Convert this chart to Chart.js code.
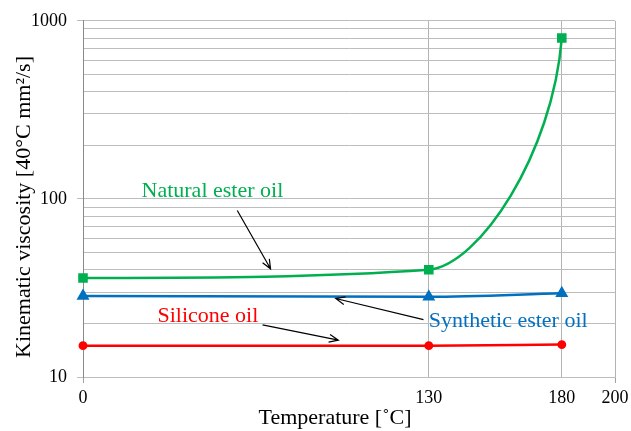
<!DOCTYPE html>
<html>
<head>
<meta charset="utf-8">
<script src="https://cdn.jsdelivr.net/npm/chart.js@4.4.1/dist/chart.umd.min.js"></script>
<style>
  body { margin: 0; background: #fff; }
</style>
</head>
<body>
<canvas id="elementViscosity" width="631" height="431"></canvas>
<script>
// temperatures [deg C]
var temps = [0, 130, 180];
// kinematic viscosity at 40 deg C [mm2/s]
var naturalEster = [36, 40, 800];
var syntheticEster = [28.5, 28.2, 29.5];
var siliconeOil = [15, 15, 15.2];

var xTicks = [0, 130, 180, 200];
var yTicks = [10, 20, 30, 40, 50, 60, 70, 80, 90, 100, 200, 300, 400, 500, 600, 700, 800, 900, 1000];
var yLabels = [10, 100, 1000];

var serif = 'Liberation Serif';

function toPoints(values) {
    return temps.map(function (t, i) { return { x: t, y: values[i] }; });
}

// text labels and arrows, placed in data units
var notes = [
    { text: 'Natural ester oil', color: '#00B050', x: 22, y: 102, from: [58, 86], to: [70.5, 40.5] },
    { text: 'Silicone oil', color: '#FF0000', x: 28, y: 20.4, from: [67.5, 19.6], to: [96, 16.1] },
    { text: 'Synthetic ester oil', color: '#0070C0', x: 130, y: 19.1, from: [128, 21], to: [95, 27.6] }
];

// bend the last segment of the natural ester curve like the spreadsheet smoothing does
var smoothPlugin = {
    id: 'smoothEnd',
    beforeDatasetDraw: function (chart, args) {
        if (args.index !== 0) return;
        var line = args.meta.dataset;
        line.updateControlPoints(chart.chartArea, 'x');
        var pts = args.meta.data;
        var a = pts[pts.length - 2], b = pts[pts.length - 1];
        var dx = b.x - a.x, dy = b.y - a.y;
        a.cp2x = a.x + 0.38 * dx;
        a.cp2y = a.y + 0.02 * dy;
        b.cp1x = b.x - 0.07 * dx;
        b.cp1y = b.y - 0.5 * dy;
    }
};

var notesPlugin = {
    id: 'notes',
    afterDatasetsDraw: function (chart) {
        var c = chart.ctx;
        var xs = chart.scales.x, ys = chart.scales.y;
        c.save();
        c.font = '22px ' + serif;
        c.textBaseline = 'alphabetic';
        c.textAlign = 'left';
        notes.forEach(function (n) {
            c.fillStyle = n.color;
            c.fillText(n.text, xs.getPixelForValue(n.x), ys.getPixelForValue(n.y));
            var x1 = xs.getPixelForValue(n.from[0]), y1 = ys.getPixelForValue(n.from[1]);
            var x2 = xs.getPixelForValue(n.to[0]), y2 = ys.getPixelForValue(n.to[1]);
            var a = Math.atan2(y2 - y1, x2 - x1);
            c.strokeStyle = '#000';
            c.lineWidth = 1.2;
            c.beginPath();
            c.moveTo(x1, y1);
            c.lineTo(x2, y2);
            c.moveTo(x2 - 10 * Math.cos(a - 0.4), y2 - 10 * Math.sin(a - 0.4));
            c.lineTo(x2, y2);
            c.lineTo(x2 - 10 * Math.cos(a + 0.4), y2 - 10 * Math.sin(a + 0.4));
            c.stroke();
        });

        // axis titles
        c.fillStyle = '#000';
        c.textAlign = 'center';
        c.textBaseline = 'alphabetic';
        c.fillText('Temperature [\u02DAC]', 335, 424);
        c.translate(24, 207);
        c.rotate(-Math.PI / 2);
        c.textBaseline = 'middle';
        c.fillText('Kinematic viscosity [40\u00B0C mm\u00B2/s]', 0, 0);
        c.restore();
    }
};

var chartConfig = {
    type: 'line',
    data: {
        datasets: [{
            label: 'Natural ester oil',
            data: toPoints(naturalEster),
            borderColor: '#00B050',
            backgroundColor: '#00B050',
            borderWidth: 2.5,
            pointStyle: 'rect',
            pointRadius: 5,
            clip: false,
            cubicInterpolationMode: 'monotone'
        }, {
            label: 'Synthetic ester oil',
            data: toPoints(syntheticEster),
            borderColor: '#0070C0',
            backgroundColor: '#0070C0',
            borderWidth: 2.5,
            pointStyle: 'triangle',
            pointRadius: 5,
            clip: false,
            cubicInterpolationMode: 'monotone'
        }, {
            label: 'Silicone oil',
            data: toPoints(siliconeOil),
            borderColor: '#FF0000',
            backgroundColor: '#FF0000',
            borderWidth: 2.5,
            pointStyle: 'circle',
            pointRadius: 3.2,
            clip: false,
            cubicInterpolationMode: 'monotone'
        }]
    },
    options: {
        responsive: false,
        animation: false,
        layout: { padding: { top: 20, right: 16, left: 0, bottom: 0 } },
        plugins: {
            legend: { display: false },
            tooltip: { enabled: false }
        },
        scales: {
            x: {
                type: 'linear',
                min: 0,
                max: 200,
                afterBuildTicks: function (scale) {
                    scale.ticks = xTicks.map(function (v) { return { value: v }; });
                },
                afterFit: function (scale) {
                    scale.height = 54;
                    scale.paddingLeft = 0;
                    scale.paddingRight = 0;
                },
                ticks: {
                    font: { family: serif, size: 18 },
                    color: '#000',
                    padding: 4,
                    maxRotation: 0
                },
                grid: {
                    color: function (ctx) { return ctx.tick && ctx.tick.value === 0 ? 'rgba(0,0,0,0)' : '#B4B4B4'; },
                    tickColor: function (ctx) { return ctx.tick && (ctx.tick.value === 0 || ctx.tick.value === 200) ? '#A0A0A0' : 'rgba(0,0,0,0)'; },
                    tickLength: 6
                },
                border: { color: '#BDBDBD' }
            },
            y: {
                type: 'logarithmic',
                min: 10,
                max: 1000,
                afterBuildTicks: function (scale) {
                    scale.ticks = yTicks.map(function (v) { return { value: v }; });
                },
                afterFit: function (scale) { scale.width = 83; },
                ticks: {
                    font: { family: serif, size: 18 },
                    color: '#000',
                    padding: 10,
                    autoSkip: false,
                    callback: function (v) { return yLabels.indexOf(v) >= 0 ? String(v) : ''; }
                },
                grid: {
                    color: '#BDBDBD',
                    tickColor: function (ctx) { return ctx.tick && yLabels.indexOf(ctx.tick.value) >= 0 ? '#BDBDBD' : 'rgba(0,0,0,0)'; },
                    tickLength: 6
                },
                border: { color: '#8A8A8A' }
            }
        }
    },
    plugins: [smoothPlugin, notesPlugin]
};

var viscosityChart = new Chart(document.getElementById('elementViscosity'), chartConfig);
</script>
</body>
</html>
